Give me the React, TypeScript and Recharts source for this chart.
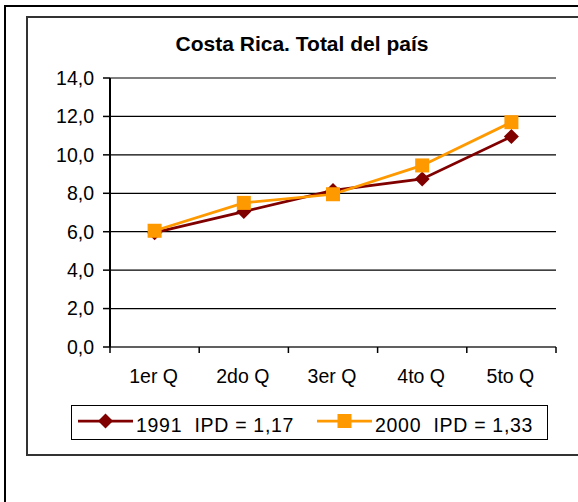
import React from 'react';
import { LineChart, Line, XAxis, YAxis, CartesianGrid, Legend } from 'recharts';

// quintile averages, two survey years
const quintiles = ['1er Q', '2do Q', '3er Q', '4to Q', '5to Q'];
const values1991 = [5.95, 7.05, 8.15, 8.75, 10.95];
const values2000 = [6.05, 7.5, 7.95, 9.45, 11.7];
const yTicks = [0, 2, 4, 6, 8, 10, 12, 14];
const seriesNames = ['1991  IPD = 1,17', '2000  IPD = 1,33'];
const seriesColors = ['#800000', '#FF9900'];

const data = quintiles.map((q, i) => ({ q, y1991: values1991[i], y2000: values2000[i] }));

const FONT = '"Liberation Sans", Arial, sans-serif';
const W = 578;
const H = 502;
const M = { top: 78, right: 22, left: 50, bottom: 125 };
const Y_AXIS_W = 60;
const X_AXIS_H = 30;
const PLOT_W = W - M.left - Y_AXIS_W - M.right;
const HALF_BAND = PLOT_W / quintiles.length / 2;

const fmt = (v: number) => v.toFixed(1).replace('.', ',');

const Diamond = (props: any) => {
  const { cx, cy, index } = props;
  if (cx == null || cy == null) return null;
  const r = 7.5;
  return (
    <path
      key={`dm-${index}`}
      d={`M${cx},${cy - r}L${cx + r},${cy}L${cx},${cy + r}L${cx - r},${cy}Z`}
      fill={seriesColors[0]}
    />
  );
};

const Square = (props: any) => {
  const { cx, cy, index } = props;
  if (cx == null || cy == null) return null;
  return <rect key={`sq-${index}`} x={cx - 7} y={cy - 7} width={14} height={14} fill={seriesColors[1]} />;
};

// category labels sit in the middle of each band, tick marks on the band edges
const QuintileTick = (props: any) => {
  const { x, y, payload, index, visibleTicksCount } = props;
  return (
    <g>
      <line x1={x - HALF_BAND} x2={x - HALF_BAND} y1={y} y2={y + 6} stroke="#000" strokeWidth={1.5} />
      {index === visibleTicksCount - 1 && (
        <line x1={x + HALF_BAND} x2={x + HALF_BAND} y1={y} y2={y + 6} stroke="#000" strokeWidth={1.5} />
      )}
      <text x={x - 1} y={y + 36} textAnchor="middle" fontSize={19.5} fontFamily={FONT} fill="#000">
        {payload.value}
      </text>
    </g>
  );
};

const LEGEND_W = 477;
const LEGEND_H = 35;
const itemX = [7, 246];

const renderLegend = (props: any) => {
  const payload = props.payload || [];
  return (
    <svg width={LEGEND_W} height={LEGEND_H} style={{ display: 'block' }}>
      <rect x={0.5} y={0.5} width={LEGEND_W - 1} height={LEGEND_H - 1} fill="#fff" stroke="#000" />
      {payload.map((entry: any, i: number) => {
        const x0 = itemX[i];
        const cx = x0 + 27.5;
        const cy = 16;
        return (
          <g key={`lg-${i}`}>
            <line x1={x0} x2={x0 + 55} y1={cy} y2={cy} stroke={seriesColors[i]} strokeWidth={2.75} />
            {i === 0 ? (
              <path d={`M${cx},${cy - 7.5}L${cx + 7.5},${cy}L${cx},${cy + 7.5}L${cx - 7.5},${cy}Z`} fill={seriesColors[0]} />
            ) : (
              <rect x={cx - 7} y={cy - 7} width={14} height={14} fill={seriesColors[1]} />
            )}
            <text
              x={x0 + 58}
              y={26.5}
              fontSize={19.5}
              fontFamily={FONT}
              fill="#000"
              style={{ whiteSpace: 'pre', letterSpacing: 0.7 }}
              xmlSpace="preserve"
            >
              {entry.value}
            </text>
          </g>
        );
      })}
    </svg>
  );
};

export default function App() {
  return (
    <div style={{ position: 'absolute', left: 0, top: 0, width: W, height: H, overflow: 'hidden', background: '#fff' }}>
      {/* outer frame, runs off the right and bottom edges */}
      <div style={{ position: 'absolute', left: 4, top: 5, width: 700, height: 700, border: '2px solid #000' }} />
      {/* chart area frame */}
      <div
        style={{
          position: 'absolute',
          left: 26,
          top: 16,
          width: 700,
          height: 440,
          boxSizing: 'border-box',
          border: '2px solid #333',
        }}
      />
      <div
        style={{
          position: 'absolute',
          left: 0,
          top: 33,
          width: 604,
          textAlign: 'center',
          fontFamily: FONT,
          fontWeight: 'bold',
          fontSize: 21,
          lineHeight: '21px',
          color: '#000',
        }}
      >
        Costa Rica. Total del país
      </div>
      <div style={{ position: 'absolute', left: 0, top: 0 }}>
        <LineChart width={W} height={H} data={data} margin={M}>
          <CartesianGrid vertical={false} stroke="#000" strokeWidth={1.2} />
          <XAxis
            dataKey="q"
            height={X_AXIS_H}
            padding={{ left: HALF_BAND, right: HALF_BAND }}
            axisLine={{ stroke: '#606060', strokeWidth: 2 }}
            tickLine={false}
            tickSize={0}
            tickMargin={0}
            interval={0}
            tick={<QuintileTick />}
          />
          <XAxis
            xAxisId="top"
            dataKey="q"
            orientation="top"
            height={0}
            padding={{ left: HALF_BAND, right: HALF_BAND }}
            axisLine={{ stroke: '#808080', strokeWidth: 2 }}
            tickLine={false}
            tick={false}
          />
          <YAxis
            width={Y_AXIS_W}
            domain={[0, 14]}
            ticks={yTicks}
            interval={0}
            tickFormatter={fmt}
            axisLine={{ stroke: '#000', strokeWidth: 2 }}
            tickLine={{ stroke: '#000', strokeWidth: 1.5 }}
            tickSize={7}
            tickMargin={9}
            tick={{ fontSize: 19.5, fontFamily: FONT, fill: '#000' }}
          />
          <YAxis
            yAxisId="right"
            orientation="right"
            width={0}
            domain={[0, 14]}
            axisLine={{ stroke: '#808080', strokeWidth: 2 }}
            tickLine={false}
            tick={false}
          />
          <Line
            type="linear"
            dataKey="y1991"
            name={seriesNames[0]}
            stroke={seriesColors[0]}
            strokeWidth={2.75}
            dot={Diamond}
            activeDot={false}
            isAnimationActive={false}
          />
          <Line
            type="linear"
            dataKey="y2000"
            name={seriesNames[1]}
            stroke={seriesColors[1]}
            strokeWidth={2.75}
            dot={Square}
            activeDot={false}
            isAnimationActive={false}
          />
          <Legend
            layout="horizontal"
            verticalAlign="middle"
            align="center"
            wrapperStyle={{ left: 71, top: 405, width: LEGEND_W, height: LEGEND_H }}
            content={renderLegend}
          />
        </LineChart>
      </div>
    </div>
  );
}
